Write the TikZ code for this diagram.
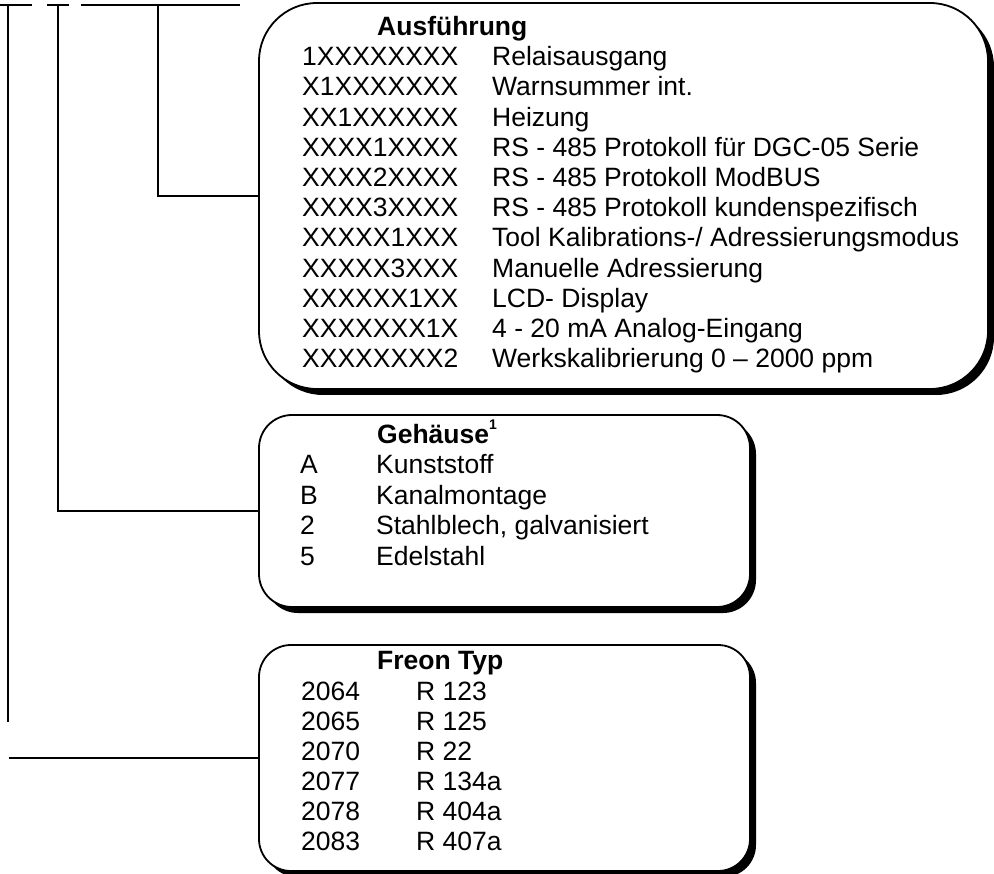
\documentclass[tikz,border=0pt]{standalone}
\usepackage{fontspec}
\setmainfont{Liberation Sans}
\usepackage{tikz}
\usetikzlibrary{shadows}

\tikzset{
	infobox/.style={draw, line width=1.8pt, fill=white, drop shadow={shadow xshift=6pt, shadow yshift=-6pt, fill=black, opacity=1}},
	lead/.style={line width=1.5pt},
	entry/.style={anchor=base west, inner sep=0pt, font=\fontsize{26.5}{30}\selectfont},
	head/.style={entry, font=\fontsize{26.5}{30}\selectfont\bfseries},
}

\begin{document}
\begin{tikzpicture}[x=1pt,y=-1pt]
	%\draw[step=100,color=gray] (0,0) grid (994,874);
	\useasboundingbox (0,0) rectangle (994,874);
	\node[infobox, minimum width=729pt, minimum height=386pt, rounded corners=58pt] (ausf) at (623.5,196) {};
	\node[infobox, minimum width=491pt, minimum height=192pt, rounded corners=33pt] (gehaeuse) at (504.5,511) {};
	\node[infobox, minimum width=491pt, minimum height=226pt, rounded corners=32pt] (freon) at (504.5,758) {};

	\node[head] (ausfhead) at (377,35.5) {Ausführung};
	\foreach \code/\txt [count=\i] in {1XXXXXXXX/Relaisausgang, X1XXXXXXX/Warnsummer int., XX1XXXXXX/Heizung,
		XXXX1XXXX/RS - 485 Protokoll für DGC-05 Serie, XXXX2XXXX/RS - 485 Protokoll ModBUS,
		XXXX3XXXX/RS - 485 Protokoll kundenspezifisch, XXXXX1XXX/{Tool Kalibrations-/ Adressierungsmodus},
		XXXXX3XXX/Manuelle Adressierung, XXXXXX1XX/LCD- Display, XXXXXXX1X/4 - 20 mA Analog-Eingang,
		XXXXXXXX2/Werkskalibrierung 0 – 2000 ppm}{
		\node[entry] (ausfcode\i) at (302,{35.5+30.2*\i}) {\code};
		\node[entry] (ausftxt\i) at (492,{35.5+30.2*\i}) {\txt};
	}

	\node[head] (gehhead) at (377,444) {Gehäuse\raisebox{14pt}{\fontsize{14}{14}\selectfont\bfseries 1}};
	\foreach \code/\txt [count=\i] in {A/Kunststoff, B/Kanalmontage, 2/{Stahlblech, galvanisiert}, 5/Edelstahl}{
		\node[entry] (gehcode\i) at (300,{443.5+30.5*\i}) {\code};
		\node[entry] (gehtxt\i) at (376,{443.5+30.5*\i}) {\txt};
	}

	\node[head] (freonhead) at (377,669) {Freon Typ};
	\foreach \code/\txt [count=\i] in {2064/R 123, 2065/R 125, 2070/R 22, 2077/R 134a, 2078/R 404a, 2083/R 407a}{
		\node[entry] (freoncode\i) at (301,{670+30*\i}) {\code};
		\node[entry] (freontxt\i) at (416,{670+30*\i}) {\txt};
	}

	\coordinate (tickA1) at (0,5);
	\coordinate (tickA2) at (32,5);
	\coordinate (legA) at (8,5);
	\coordinate (endA) at (8,722);
	\coordinate (startF) at (9,758);
	\coordinate (tickB1) at (47,5);
	\coordinate (tickB2) at (69,5);
	\coordinate (legB) at (58,5);
	\coordinate (tickC1) at (81,5);
	\coordinate (tickC2) at (240,5);
	\coordinate (legC) at (158,5);

	\draw[lead] (tickA1) -- (tickA2);
	\draw[lead] (legA) -- (endA);
	\draw[lead] (startF) -- (freon.west);
	\draw[lead] (tickB1) -- (tickB2);
	\draw[lead] (legB) |- (gehaeuse.west);
	\draw[lead] (tickC1) -- (tickC2);
	\draw[lead] (legC) |- (ausf.west);
\end{tikzpicture}
\end{document}
